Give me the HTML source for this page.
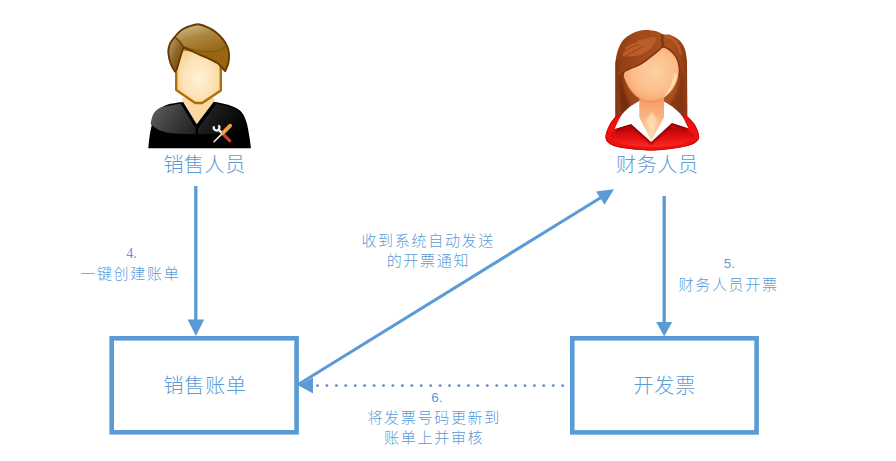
<!DOCTYPE html>
<html lang="zh-CN">
<head>
<meta charset="utf-8">
<title>销售开票流程</title>
<style>
html,body{margin:0;padding:0;background:#fff;}
body{width:896px;height:461px;overflow:hidden;position:relative;font-family:"Liberation Sans","Noto Sans CJK SC",sans-serif;}
svg{position:absolute;left:0;top:0;display:block;}
.t{fill:#5b9bd5;font-family:"Liberation Sans","Noto Sans CJK SC",sans-serif;font-weight:300;}
.big{font-size:20px;letter-spacing:0.6px;}
.sm{font-size:15px;letter-spacing:1.7px;}
.num{font-size:13.5px;letter-spacing:0;}
.numserif{font-family:"Liberation Serif","Noto Serif CJK SC",serif;font-size:14px;}
</style>
</head>
<body>
<svg width="896" height="461" viewBox="0 0 896 461">
<defs>
  <linearGradient id="mHairL" x1="0" y1="0" x2="1" y2="0">
    <stop offset="0" stop-color="#9a7236"/>
    <stop offset="0.25" stop-color="#8a5d16"/>
    <stop offset="1" stop-color="#96620f"/>
  </linearGradient>
  <linearGradient id="mLeft" gradientUnits="userSpaceOnUse" x1="169" y1="50" x2="183" y2="56">
    <stop offset="0" stop-color="#ab8d55"/>
    <stop offset="0.5" stop-color="#8f6624"/>
    <stop offset="1" stop-color="#7c5110"/>
  </linearGradient>
  <linearGradient id="mDome" x1="0.15" y1="0" x2="0.7" y2="1">
    <stop offset="0" stop-color="#d4bc8e"/>
    <stop offset="0.45" stop-color="#ad873f"/>
    <stop offset="1" stop-color="#96681a"/>
  </linearGradient>
  <radialGradient id="mFace" cx="0.5" cy="0.55" r="0.62">
    <stop offset="0" stop-color="#fff1d8"/>
    <stop offset="0.55" stop-color="#fde3b6"/>
    <stop offset="1" stop-color="#f8cc8a"/>
  </radialGradient>
  <linearGradient id="mBody" x1="0" y1="0" x2="0" y2="1">
    <stop offset="0" stop-color="#4a4a4a"/>
    <stop offset="0.4" stop-color="#2e2e2e"/>
    <stop offset="0.68" stop-color="#141414"/>
    <stop offset="0.72" stop-color="#000"/>
    <stop offset="1" stop-color="#000"/>
  </linearGradient>
  <linearGradient id="mGloss" gradientUnits="userSpaceOnUse" x1="158" y1="100" x2="226" y2="146">
    <stop offset="0" stop-color="#5e5e5e"/>
    <stop offset="0.3" stop-color="#3c3c3c"/>
    <stop offset="0.6" stop-color="#202020"/>
    <stop offset="1" stop-color="#040404"/>
  </linearGradient>
  <linearGradient id="mBodySide" x1="0" y1="0" x2="1" y2="0">
    <stop offset="0" stop-color="#000" stop-opacity="0.75"/>
    <stop offset="0.18" stop-color="#000" stop-opacity="0"/>
    <stop offset="0.6" stop-color="#000" stop-opacity="0.1"/>
    <stop offset="1" stop-color="#000" stop-opacity="0.7"/>
  </linearGradient>
  <linearGradient id="fHair" x1="0" y1="0" x2="1" y2="0">
    <stop offset="0" stop-color="#8e3c14"/>
    <stop offset="0.35" stop-color="#a24a1c"/>
    <stop offset="0.8" stop-color="#a9501f"/>
    <stop offset="1" stop-color="#8e3c14"/>
  </linearGradient>
  <radialGradient id="fFace" cx="0.56" cy="0.45" r="0.66">
    <stop offset="0" stop-color="#fdd0a2"/>
    <stop offset="0.6" stop-color="#fbbd8a"/>
    <stop offset="1" stop-color="#f59c62"/>
  </radialGradient>
  <linearGradient id="fNeck" x1="0" y1="0" x2="0" y2="1">
    <stop offset="0" stop-color="#f4935f"/>
    <stop offset="0.3" stop-color="#f9a674"/>
    <stop offset="0.6" stop-color="#fbbd90"/>
    <stop offset="1" stop-color="#fdd8ae"/>
  </linearGradient>
  <clipPath id="fHairClip"><path d="M615.3,128.0L615.3,63.0C615.7,61.1 616.2,55.3 617.5,51.5 C618.8,47.7 620.6,43.1 623.2,40.0 C625.8,36.9 629.6,34.6 633.2,32.9 C636.8,31.2 640.9,30.3 644.7,30.0 C648.5,29.7 653.1,30.5 656.2,31.2 C659.3,31.9 660.9,33.7 663.3,34.3 C665.7,34.9 667.9,34.0 670.5,35.0 C673.1,36.0 676.7,37.7 679.1,40.0 C681.5,42.3 683.5,45.4 684.8,48.7 C686.1,52.1 686.6,58.2 687.0,60.1L687.4,128.0Z"/></clipPath>
  <clipPath id="fClip"><path d="M615.3,116.8C614.3,118.1 611.2,121.7 609.6,124.7 C608.0,127.7 606.1,131.8 605.7,134.7 C605.4,137.6 605.5,139.9 607.5,141.9 C609.5,143.9 612.2,145.6 617.5,146.9 C622.8,148.2 633.0,149.2 639.0,149.8 C645.0,150.4 648.0,150.6 653.3,150.5 C658.5,150.4 664.5,149.8 670.5,149.0 C676.5,148.2 684.6,146.9 689.1,145.5 C693.6,144.1 696.1,142.2 697.7,140.4 C699.3,138.6 699.4,137.3 698.9,134.7 C698.4,132.1 696.8,127.7 694.9,124.7 C693.0,121.7 688.9,118.1 687.7,116.8L652.0,104.0Z"/></clipPath>
  <filter id="blur1" x="-10%" y="-10%" width="120%" height="130%"><feGaussianBlur stdDeviation="0.9"/></filter>
  <linearGradient id="fInner" x1="0" y1="0" x2="0" y2="1">
    <stop offset="0" stop-color="#b00404"/>
    <stop offset="0.55" stop-color="#e51010"/>
    <stop offset="1" stop-color="#fb2a2a"/>
  </linearGradient>
  <radialGradient id="fBody" cx="0.5" cy="0.35" r="0.75">
    <stop offset="0" stop-color="#ff2a26"/>
    <stop offset="0.6" stop-color="#ee1414"/>
    <stop offset="1" stop-color="#c40606"/>
  </radialGradient>
</defs>

<!-- boxes -->
<rect x="111.7" y="338.3" width="184.9" height="94" fill="#fff" stroke="#5b9bd5" stroke-width="4.6"/>
<rect x="572.3" y="338.3" width="184.3" height="94.1" fill="#fff" stroke="#5b9bd5" stroke-width="4.6"/>

<!-- arrows -->
<g stroke="#5b9bd5" stroke-width="3.3" fill="none">
  <line x1="195.8" y1="186" x2="195.8" y2="322"/>
  <line x1="664.2" y1="196" x2="664.2" y2="324"/>
  <line x1="297" y1="385.2" x2="603" y2="196.2" stroke-width="3"/>
</g>
<g fill="#5b9bd5">
  <polygon points="187.6,319.5 204.2,319.5 195.9,336"/>
  <polygon points="656.2,322 672.2,322 664.2,336.4"/>
  <polygon points="614,189.3 596,191.4 604.5,204.7"/>
  <polygon points="298.5,385.5 313,377.5 313,393.5"/>
</g>
<g fill="#5b8fcd"><circle cx="317.5" cy="385.6" r="1.45"/><circle cx="326.9" cy="385.6" r="1.45"/><circle cx="336.4" cy="385.6" r="1.45"/><circle cx="345.8" cy="385.6" r="1.45"/><circle cx="355.2" cy="385.6" r="1.45"/><circle cx="364.6" cy="385.6" r="1.45"/><circle cx="374.1" cy="385.6" r="1.45"/><circle cx="383.5" cy="385.6" r="1.45"/><circle cx="392.9" cy="385.6" r="1.45"/><circle cx="402.4" cy="385.6" r="1.45"/><circle cx="411.8" cy="385.6" r="1.45"/><circle cx="421.2" cy="385.6" r="1.45"/><circle cx="430.7" cy="385.6" r="1.45"/><circle cx="440.1" cy="385.6" r="1.45"/><circle cx="449.5" cy="385.6" r="1.45"/><circle cx="458.9" cy="385.6" r="1.45"/><circle cx="468.4" cy="385.6" r="1.45"/><circle cx="477.8" cy="385.6" r="1.45"/><circle cx="487.2" cy="385.6" r="1.45"/><circle cx="496.7" cy="385.6" r="1.45"/><circle cx="506.1" cy="385.6" r="1.45"/><circle cx="515.5" cy="385.6" r="1.45"/><circle cx="525.0" cy="385.6" r="1.45"/><circle cx="534.4" cy="385.6" r="1.45"/><circle cx="543.8" cy="385.6" r="1.45"/><circle cx="553.2" cy="385.6" r="1.45"/><circle cx="562.7" cy="385.6" r="1.45"/></g>

<!-- text -->
<text class="t big" x="204.6" y="172.3" text-anchor="middle">销售人员</text>
<text class="t big" x="657.3" y="172.3" text-anchor="middle">财务人员</text>
<text class="t big" x="205.2" y="392.9" text-anchor="middle" style="letter-spacing:0.9px">销售账单</text>
<text class="t big" x="664.8" y="392.9" text-anchor="middle" style="letter-spacing:0.9px">开发票</text>

<text class="t numserif" x="131.5" y="258" text-anchor="middle">4.</text>
<text class="t sm" x="130.3" y="279" text-anchor="middle">一键创建账单</text>

<text class="t sm" x="428.2" y="245.6" text-anchor="middle">收到系统自动发送</text>
<text class="t sm" x="428.4" y="266" text-anchor="middle">的开票通知</text>

<text class="t num" x="729.5" y="268.3" text-anchor="middle">5.</text>
<text class="t sm" x="728.6" y="289.9" text-anchor="middle">财务人员开票</text>

<text class="t num" x="437" y="402.2" text-anchor="middle">6.</text>
<text class="t sm" x="434.2" y="422.8" text-anchor="middle">将发票号码更新到</text>
<text class="t sm" x="434.2" y="442.5" text-anchor="middle">账单上并审核</text>

<!-- male avatar -->
<g id="male">
  <!-- neck -->
  <path d="M182.5,98 L214.5,98 L214.5,104 L197,126 L182.5,104 Z" fill="#fbd8a4"/>
  <path d="M148.3,148.2C148.6,145.8 149.1,138.7 150.0,133.7 C150.9,128.7 152.2,122.0 153.6,118.0 C155.0,114.0 156.1,111.7 158.6,109.4 C161.1,107.1 164.6,105.5 168.7,104.3 C172.8,103.1 180.7,102.4 183.1,102.0L196.7,124.3L213.8,101.8C216.3,102.3 224.4,103.5 228.8,105.0 C233.2,106.5 237.4,108.2 240.3,110.8 C243.2,113.4 244.6,117.0 246.0,120.8 C247.4,124.6 248.1,129.1 248.9,133.7 C249.7,138.3 250.7,145.8 251.0,148.2Z" fill="#000"/>
  <path d="M150.6,124.0C150.9,122.7 151.7,118.1 152.5,116.0 C153.3,113.9 154.0,112.8 155.2,111.5 C156.4,110.2 157.5,109.0 159.8,108.0 C162.1,107.0 165.5,106.5 169.0,105.8 C172.5,105.1 178.8,104.1 180.8,103.8L195.6,128.6L195.6,134.3L198.0,134.3L198.0,128.6L216.2,103.8C218.2,104.3 224.7,105.3 228.5,106.6 C232.3,107.9 236.3,109.5 239.0,111.8 C241.7,114.1 243.2,118.5 244.4,120.5 C245.6,122.5 246.1,123.4 246.4,124.0C245.0,125.0 242.4,128.6 238.0,130.2 C233.6,131.8 226.8,132.9 220.0,133.6 C213.2,134.3 204.5,134.3 197.0,134.3 C189.5,134.3 181.2,134.2 175.0,133.6 C168.8,133.0 164.1,132.2 160.0,130.6 C155.9,129.0 152.2,125.1 150.6,124.0Z" fill="url(#mGloss)"/>
  <!-- face -->
  <path d="M176.2,48 L176.2,89.9 L195.2,103 L202.2,103 L220.8,90.4 L220.8,55 Z" fill="url(#mFace)" stroke="#b06e0a" stroke-width="2.4" stroke-linejoin="round"/>
  <!-- hair -->
  <path d="M175.0,71.6C174.3,70.3 171.8,66.9 170.7,63.7 C169.6,60.5 168.4,55.5 168.3,52.2 C168.2,48.9 168.9,46.3 170.0,43.7 C171.1,41.1 173.1,38.8 175.0,36.5 C176.9,34.2 179.2,31.7 181.5,30.0 C183.8,28.3 185.9,27.4 188.7,26.5 C191.4,25.6 194.9,24.2 198.0,24.3 C201.1,24.4 204.3,25.9 207.3,27.2 C210.3,28.5 213.3,30.2 215.9,32.2 C218.5,34.2 221.1,37.0 223.0,39.4 C224.9,41.8 226.3,44.1 227.3,46.5 C228.3,48.9 228.8,51.1 229.0,53.7 C229.2,56.3 229.1,59.4 228.5,62.3 C227.9,65.2 225.8,69.7 225.2,71.2C224.6,70.5 222.9,68.7 221.6,67.3 C220.3,65.9 219.7,64.5 217.3,63.0 C214.9,61.5 210.9,59.7 207.3,58.0 C203.7,56.3 199.8,54.8 195.8,53.0 C191.9,51.2 185.6,48.2 183.6,47.2C183.0,49.0 181.1,54.5 180.0,58.0 C178.9,61.5 178.0,65.7 177.2,68.0 C176.4,70.3 175.4,71.0 175.0,71.6Z" fill="#9a6510"/>
  <path d="M175.0,71.6C174.3,70.3 171.8,66.9 170.7,63.7 C169.6,60.5 168.4,55.5 168.3,52.2 C168.2,48.9 168.9,46.2 170.0,43.7 C171.1,41.2 173.8,38.4 174.6,37.3C175.2,37.8 177.2,39.1 178.4,40.3 C179.6,41.5 181.1,43.4 182.0,44.6 C182.9,45.8 183.7,47.1 184.0,47.6C183.3,49.3 181.1,54.6 180.0,58.0 C178.9,61.4 178.0,65.7 177.2,68.0 C176.4,70.3 175.4,71.0 175.0,71.6Z" fill="url(#mLeft)"/>
  <path d="M175.5,37.0C176.5,35.9 179.3,32.2 181.5,30.5 C183.7,28.8 185.9,27.9 188.7,27.0 C191.4,26.1 194.9,24.9 198.0,25.0 C201.1,25.1 204.4,26.5 207.3,27.8 C210.2,29.1 213.0,30.8 215.5,32.8 C218.0,34.8 220.6,37.5 222.3,39.8 C224.1,42.1 225.4,45.4 226.0,46.5C224.8,47.1 222.0,49.4 219.0,50.3 C216.0,51.1 211.7,51.5 208.0,51.6 C204.3,51.7 200.2,51.1 197.0,50.6 C193.8,50.1 191.2,49.2 189.0,48.6 C186.8,48.0 185.2,47.7 184.0,47.0 C182.8,46.3 182.9,45.7 182.0,44.6 C181.1,43.5 179.5,41.5 178.4,40.3 C177.3,39.1 176.0,38.0 175.5,37.6Z" fill="url(#mDome)"/>
  <path d="M226.0,46.5C224.8,47.1 222.0,49.4 219.0,50.3 C216.0,51.1 211.7,51.5 208.0,51.6 C204.3,51.7 200.2,51.1 197.0,50.6 C193.8,50.1 191.2,49.2 189.0,48.6 C186.8,48.0 184.8,47.3 184.0,47.0" fill="none" stroke="#855408" stroke-width="1.3" opacity="0.75"/>
  <path d="M175.0,71.6C174.3,70.3 171.8,66.9 170.7,63.7 C169.6,60.5 168.4,55.5 168.3,52.2 C168.2,48.9 168.9,46.3 170.0,43.7 C171.1,41.1 173.1,38.8 175.0,36.5 C176.9,34.2 179.2,31.7 181.5,30.0 C183.8,28.3 185.9,27.4 188.7,26.5 C191.4,25.6 194.9,24.2 198.0,24.3 C201.1,24.4 204.3,25.9 207.3,27.2 C210.3,28.5 213.3,30.2 215.9,32.2 C218.5,34.2 221.1,37.0 223.0,39.4 C224.9,41.8 226.3,44.1 227.3,46.5 C228.3,48.9 228.8,51.1 229.0,53.7 C229.2,56.3 229.1,59.4 228.5,62.3 C227.9,65.2 225.8,69.7 225.2,71.2C224.6,70.5 222.9,68.7 221.6,67.3 C220.3,65.9 219.7,64.5 217.3,63.0 C214.9,61.5 210.9,59.7 207.3,58.0 C203.7,56.3 199.8,54.8 195.8,53.0 C191.9,51.2 185.6,48.2 183.6,47.2C183.0,49.0 181.1,54.5 180.0,58.0 C178.9,61.5 178.0,65.7 177.2,68.0 C176.4,70.3 175.4,71.0 175.0,71.6Z" fill="none" stroke="#653a05" stroke-width="1.9" stroke-linejoin="round"/>
  <path d="M174.6,37.3C175.2,37.8 177.2,39.1 178.4,40.3 C179.6,41.5 181.1,43.4 182.0,44.6 C182.9,45.8 183.7,47.1 184.0,47.6" stroke="#6a3e06" stroke-width="1.5" fill="none"/>
  <!-- tools -->
  <g fill="none">
    <line x1="222.4" y1="133.4" x2="229.8" y2="140.9" stroke="#c9402c" stroke-width="3.1" stroke-linecap="round"/>
    <line x1="218.3" y1="129.5" x2="222.6" y2="133.6" stroke="#e4e4e4" stroke-width="2.5"/>
    <path d="M218.3,125.4 A2.8,2.8 0 1 1 214.2,126.2" stroke="#ececec" stroke-width="2.2"/>
    <line x1="222.4" y1="133.4" x2="214" y2="141.7" stroke="#f6ebe2" stroke-width="1.5" stroke-linecap="round"/>
    <line x1="230.2" y1="125.7" x2="223" y2="132.8" stroke="#f0a23c" stroke-width="3.8" stroke-linecap="round"/>
  </g>
</g>

<!-- female avatar -->
<g id="female">
  <path d="M615.3,128.0L615.3,63.0C615.7,61.1 616.2,55.3 617.5,51.5 C618.8,47.7 620.6,43.1 623.2,40.0 C625.8,36.9 629.6,34.6 633.2,32.9 C636.8,31.2 640.9,30.3 644.7,30.0 C648.5,29.7 653.1,30.5 656.2,31.2 C659.3,31.9 660.9,33.7 663.3,34.3 C665.7,34.9 667.9,34.0 670.5,35.0 C673.1,36.0 676.7,37.7 679.1,40.0 C681.5,42.3 683.5,45.4 684.8,48.7 C686.1,52.1 686.6,58.2 687.0,60.1L687.4,128.0Z" fill="url(#fHair)"/>
  <g clip-path="url(#fHairClip)"><g filter="url(#blur1)">
    <path d="M621.5,76 C622.5,88 626,98 631,106 L622,116 C619.5,104 619,90 619.2,76 Z" fill="#6f2a0b" opacity="0.85"/>
    <path d="M680.8,74 C680.5,86 676,97 669,104.5 L684,119 C684.6,104 684.4,88 683.6,74 Z" fill="#7a300d" opacity="0.7"/>
    <path d="M616,60 L616,122" stroke="#7a300d" stroke-width="1.6" fill="none"/>
    <path d="M686.8,60 L687.2,122" stroke="#8a3a12" stroke-width="1.2" fill="none"/>
  </g></g>
  <path d="M622.5,56.0C623.8,56.1 627.2,56.6 630.0,56.5 C632.8,56.4 636.3,56.0 639.0,55.3 C641.7,54.5 643.9,53.3 646.0,52.0 C648.1,50.7 649.9,49.3 651.5,47.5 C653.1,45.7 654.7,42.7 655.5,41.0 C656.3,39.3 656.3,38.1 656.5,37.5C655.4,37.4 652.1,36.9 650.0,37.0 C647.9,37.1 646.2,37.6 644.0,38.2 C641.8,38.8 639.3,39.5 637.0,40.5 C634.7,41.5 631.9,42.7 630.0,44.0 C628.1,45.3 626.8,46.5 625.5,48.5 C624.2,50.5 623.0,54.8 622.5,56.0Z" fill="#b95d2b"/>
  <g stroke="#a04819" stroke-width="1.1" fill="none" stroke-linecap="round">
    <path d="M623.5,52 C628,48.5 633,46 638.5,44.2"/>
    <path d="M625,47.3 C629,44.5 633,42.6 637,41.4"/>
    <path d="M628,43.5 C632,41 637,39.4 642,38.6"/>
    <path d="M634,40.8 C639,38.8 644,37.8 649,37.6"/>
    <path d="M624,56.6 C630,53.5 636,50.5 642,47"/>
  </g>
  <path d="M662.2,34.6 C662,39 662.4,43.5 663.2,48" stroke="#7f300f" stroke-width="2.2" fill="none"/>
  <path d="M665.8,36.2C666.8,36.6 669.8,37.2 671.5,38.3 C673.2,39.3 674.8,41.0 676.0,42.5 C677.2,44.0 678.2,45.7 679.0,47.5 C679.8,49.3 680.3,52.5 680.6,53.5" stroke="#b95d2b" stroke-width="2.4" fill="none" stroke-linecap="round"/>
  <path d="M615.3,116.8C614.3,118.1 611.2,121.7 609.6,124.7 C608.0,127.7 606.1,131.8 605.7,134.7 C605.4,137.6 605.5,139.9 607.5,141.9 C609.5,143.9 612.2,145.6 617.5,146.9 C622.8,148.2 633.0,149.2 639.0,149.8 C645.0,150.4 648.0,150.6 653.3,150.5 C658.5,150.4 664.5,149.8 670.5,149.0 C676.5,148.2 684.6,146.9 689.1,145.5 C693.6,144.1 696.1,142.2 697.7,140.4 C699.3,138.6 699.4,137.3 698.9,134.7 C698.4,132.1 696.8,127.7 694.9,124.7 C693.0,121.7 688.9,118.1 687.7,116.8L652.0,104.0Z" fill="#f01010"/>
  <g clip-path="url(#fClip)">
    <ellipse cx="652.3" cy="136.5" rx="42" ry="10.6" fill="url(#fInner)"/>
    <path d="M639.0,101.0C637.3,102.1 632.0,105.0 629.0,107.5 C626.0,110.0 623.4,112.4 621.0,116.0 C618.6,119.6 615.7,126.8 614.6,129.0L631.1,124.0L651.2,141.9L671.9,123.0L688.4,128.3C687.3,126.3 684.5,119.5 682.0,116.0 C679.5,112.5 676.5,110.0 673.4,107.5 C670.3,105.0 665.0,102.1 663.3,101.0Z" fill="#8e0000" transform="translate(0,2.6)" filter="url(#blur1)"/>
    <path d="M615.3,116.8C614.3,118.1 611.2,121.7 609.6,124.7 C608.0,127.7 606.1,131.8 605.7,134.7 C605.4,137.6 605.5,139.9 607.5,141.9 C609.5,143.9 612.2,145.6 617.5,146.9 C622.8,148.2 633.0,149.2 639.0,149.8 C645.0,150.4 648.0,150.6 653.3,150.5 C658.5,150.4 664.5,149.8 670.5,149.0 C676.5,148.2 684.6,146.9 689.1,145.5 C693.6,144.1 696.1,142.2 697.7,140.4 C699.3,138.6 699.4,137.3 698.9,134.7 C698.4,132.1 696.8,127.7 694.9,124.7 C693.0,121.7 688.9,118.1 687.7,116.8L652.0,104.0Z" fill="none" stroke="#c20808" stroke-width="1.6"/>
  </g>
  <path d="M639.0,101.0C637.3,102.1 632.0,105.0 629.0,107.5 C626.0,110.0 623.4,112.4 621.0,116.0 C618.6,119.6 615.7,126.8 614.6,129.0L631.1,124.0L651.2,141.9L671.9,123.0L688.4,128.3C687.3,126.3 684.5,119.5 682.0,116.0 C679.5,112.5 676.5,110.0 673.4,107.5 C670.3,105.0 665.0,102.1 663.3,101.0Z" fill="#fff"/>
  <!-- neck -->
  <path d="M639.3,94 L664,94 L664,117.5 L651.4,140.8 L639.3,117.5 Z" fill="url(#fNeck)"/><path d="M651.5,112 L657,120 L651.4,138 L646,120 Z" fill="#fde2b8" opacity="0.8" filter="url(#blur1)"/>
  <path d="M622.8,74.2C624.0,73.5 627.3,71.2 630.0,69.8 C632.7,68.4 636.2,67.4 639.0,66.0 C641.8,64.6 644.1,62.9 646.5,61.2 C648.9,59.5 651.3,57.6 653.3,56.0 C655.3,54.4 656.9,53.1 658.5,51.7 C660.1,50.3 662.2,48.3 663.0,47.6" stroke="#7a2c0c" stroke-width="3" fill="none" stroke-linecap="round"/>
  <path d="M663.3,47.5C664.1,47.8 666.5,48.2 668.0,49.0 C669.5,49.8 671.1,51.1 672.5,52.5 C673.9,53.9 675.2,55.7 676.2,57.5 C677.2,59.3 678.0,61.4 678.5,63.5 C679.0,65.6 679.3,67.9 679.4,70.0 C679.5,72.1 679.2,75.0 679.2,76.0" stroke="#86340f" stroke-width="2" fill="none" stroke-linecap="round"/>
  <path d="M623.9,73.7C624.6,71.6 627.5,70.8 630.0,69.5 C632.5,68.2 636.2,67.2 639.0,65.8 C641.8,64.4 644.1,62.7 646.5,61.0 C648.9,59.3 651.3,57.4 653.3,55.8 C655.3,54.2 657.0,52.8 658.5,51.5 C660.0,50.2 661.1,48.2 662.6,47.9 C664.1,47.6 666.0,48.6 667.5,49.5 C669.0,50.4 670.6,51.7 671.9,53.0 C673.2,54.3 674.5,55.8 675.5,57.5 C676.5,59.2 677.2,61.1 677.7,63.0 C678.2,64.9 678.5,67.1 678.6,69.0 C678.7,70.9 678.8,72.2 678.4,74.4 C678.0,76.6 677.5,79.5 676.5,82.0 C675.5,84.5 674.2,87.2 672.5,89.5 C670.8,91.8 668.3,94.2 666.0,96.0 C663.7,97.8 661.0,99.1 658.5,100.0 C656.0,100.9 653.7,101.3 651.2,101.3 C648.7,101.3 646.0,100.9 643.5,100.0 C641.0,99.1 638.7,97.8 636.5,96.0 C634.3,94.2 632.2,91.8 630.5,89.5 C628.8,87.2 627.1,84.6 626.0,82.0 C624.9,79.4 623.2,75.8 623.9,73.7Z" fill="url(#fFace)"/>
  <path d="M628,86 C632,95 641,101.3 651.2,101.3 C661,101.3 670,95 675,85" stroke="#e58a4c" stroke-width="0.9" fill="none" opacity="0.8"/>
  <path d="M677,74 C676.2,83.5 671,92.5 663,98 C668.5,91.5 672.8,83.5 674.2,74 Z" fill="#fee0b4" opacity="0.95"/>
</g>
</svg>
</body>
</html>
